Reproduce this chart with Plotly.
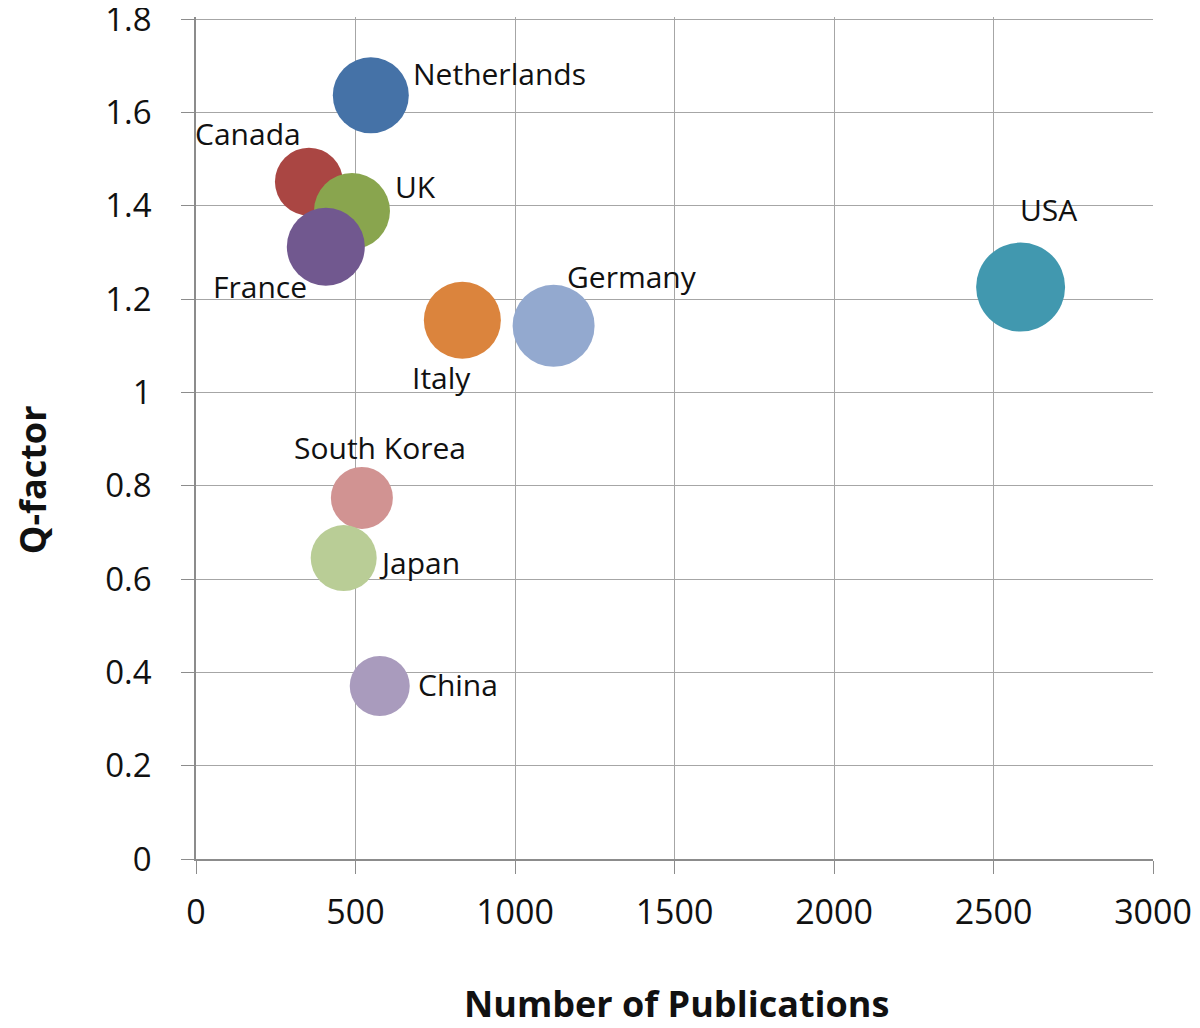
import plotly.graph_objects as go

countries = ["Netherlands", "Canada", "UK", "France", "Italy", "Germany",
             "USA", "South Korea", "Japan", "China"]
publications = [548, 354, 489, 407, 835, 1121, 2585, 520, 463, 576]
q_factor = [1.637, 1.452, 1.389, 1.3125, 1.155, 1.143, 1.226, 0.774, 0.645, 0.371]
bubble_size = [76, 68, 76, 78, 77, 82, 89, 62, 66, 60]
colors = ["#4572A7", "#AA4643", "#89A54E", "#71588F", "#DB843D", "#93A9CF",
          "#4198AF", "#D19392", "#B9CD96", "#A99BBD"]

x_ticks = [0, 500, 1000, 1500, 2000, 2500, 3000]
y_ticks = [0, 0.2, 0.4, 0.6, 0.8, 1.0, 1.2, 1.4, 1.6, 1.8]
y_tick_text = ["0", "0.2", "0.4", "0.6", "0.8", "1", "1.2", "1.4", "1.6", "1.8"]

# label offsets (pixels) relative to bubble centre
label_style = {
    "Netherlands": (40, 22),
    "Canada": (-116, 48),
    "UK": (41, 25),
    "France": (-115, -40),
    "Italy": (-52, -57),
    "Germany": (11, 49),
    "USA": (-3, 78),
    "South Korea": (-70, 50),
    "Japan": (33, -4),
    "China": (36, 1),
}

fig = go.Figure()
fig.add_trace(go.Scatter(
    x=publications, y=q_factor, mode="markers",
    marker=dict(size=bubble_size, sizemode="diameter", sizeref=1,
                color=colors, opacity=1, line=dict(width=0)),
    hovertext=countries, showlegend=False, cliponaxis=False,
))

font_family = "Open Sans, DejaVu Sans, sans-serif"
annotations = []
for c, x, y in zip(countries, publications, q_factor):
    dx, dy = label_style[c]
    annotations.append(dict(
        x=x, y=y, xref="x", yref="y", text=c, showarrow=False,
        xshift=dx, yshift=dy, xanchor="left", yanchor="middle",
        font=dict(family=font_family, size=30, color="#111111"),
    ))

annotations.append(dict(
    x=0.5016, y=-0.172, xref="paper", yref="paper", text="<b>Number of Publications</b>",
    showarrow=False, xanchor="center", yanchor="middle", borderpad=0,
    font=dict(family=font_family, size=36, color="#111111"),
))
annotations.append(dict(
    x=-0.171, y=0.4503, xref="paper", yref="paper", text="<b>Q-factor</b>",
    showarrow=False, xanchor="center", yanchor="middle", textangle=-90, borderpad=0,
    font=dict(family=font_family, size=36, color="#111111"),
))

fig.update_layout(
    width=1200, height=1028,
    margin=dict(l=188, r=55, t=9, b=177),
    paper_bgcolor="white", plot_bgcolor="white",
    annotations=annotations,
    font=dict(family=font_family, color="#111111"),
)
fig.update_xaxes(
    range=[0, 3000.01], tickvals=x_ticks, ticktext=[str(v) for v in x_ticks],
    showgrid=True, gridcolor="#a6a6a6", gridwidth=1,
    showline=True, linecolor="#8c8c8c", linewidth=1.5,
    ticks="outside", ticklen=13, tickcolor="#8c8c8c",
    tickfont=dict(family=font_family, size=34, color="#111111"),
    ticklabelstandoff=9, zeroline=False, automargin=False,
    ticklabeloverflow="allow",
)
fig.update_yaxes(
    range=[0, 1.805], tickvals=y_ticks, ticktext=y_tick_text,
    showgrid=True, gridcolor="#a6a6a6", gridwidth=1,
    showline=True, linecolor="#8c8c8c", linewidth=1.5,
    ticks="outside", ticklen=13, tickcolor="#8c8c8c",
    tickfont=dict(family=font_family, size=33, color="#111111"),
    ticklabelstandoff=23, zeroline=False, automargin=False,
    ticklabeloverflow="allow",
)
fig.write_html("out.html")
